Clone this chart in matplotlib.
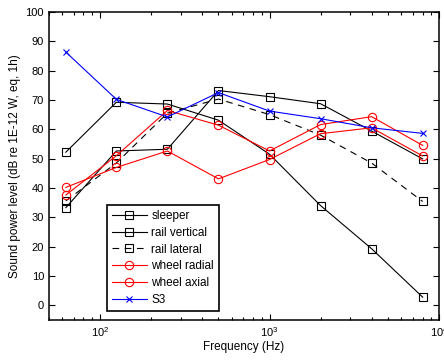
import matplotlib
matplotlib.use("Agg")
import matplotlib.pyplot as plt
from matplotlib.ticker import LogLocator, NullFormatter, FixedLocator

plt.rcParams['font.family'] = ['Liberation Sans', 'DejaVu Sans']

freq = [63, 125, 250, 500, 1000, 2000, 4000, 8000]
sleeper = [52.2, 69.2, 68.6, 63.1, 51.5, 34.0, 19.3, 2.8]
rail_vertical = [33.3, 52.6, 53.2, 73.2, 71.1, 68.7, 59.4, 49.9]
rail_lateral = [35.6, 48.5, 65.5, 70.3, 65.0, 58.0, 48.5, 35.4]
wheel_radial = [37.6, 51.0, 66.4, 61.4, 52.6, 61.6, 64.3, 54.5]
wheel_axial = [40.2, 47.0, 52.6, 43.1, 49.7, 58.5, 60.5, 50.9]
s3 = [86.3, 70.2, 64.2, 72.5, 66.2, 63.6, 60.5, 58.6]

fig = plt.figure(figsize=(4.44, 3.6), dpi=100)
ax = fig.add_axes([0.110, 0.111, 0.879, 0.856])

lw = 0.8
ms = 6
ax.plot(freq, sleeper, '-', color='black', lw=lw, marker='s', ms=ms, mfc='none', mew=0.8, label='sleeper')
ax.plot(freq, rail_vertical, '-', color='black', lw=lw, marker='s', ms=ms, mfc='none', mew=0.8, label='rail vertical')
ax.plot(freq, rail_lateral, '--', color='black', lw=lw, marker='s', ms=ms, mfc='none', mew=0.8, dashes=(6, 5), label='rail lateral')
ax.plot(freq, wheel_radial, '-', color='#ff0000', lw=lw, marker='o', ms=ms, mfc='none', mew=0.8, label='wheel radial')
ax.plot(freq, wheel_axial, '-', color='#ff0000', lw=lw, marker='o', ms=ms, mfc='none', mew=0.8, label='wheel axial')
ax.plot(freq, s3, '-', color='#0000ff', lw=lw, marker='x', ms=4, mew=0.8, label='S3')

ax.set_xscale('log')
ax.set_xlim(50, 10000)
ax.set_ylim(-5, 100)
ax.set_yticks(range(0, 101, 10))
ax.xaxis.set_major_locator(FixedLocator([100, 1000, 10000]))
ax.xaxis.set_minor_locator(LogLocator(base=10, subs=range(2, 10), numticks=20))
ax.xaxis.set_minor_formatter(NullFormatter())
ax.tick_params(which='both', direction='in', top=True, right=True, labelsize=8, width=0.8)
ax.tick_params(which='major', length=4)
ax.tick_params(which='minor', length=2.5)
for s in ax.spines.values():
    s.set_linewidth(1.1)

ax.set_xlabel('Frequency (Hz)', fontsize=8.5, labelpad=2)
ax.set_ylabel('Sound power level (dB re 1E-12 W, eq, 1h)', fontsize=8.5, labelpad=3)

leg = ax.legend(loc='lower left', bbox_to_anchor=(0.149, 0.029), borderaxespad=0,
                fontsize=8.5, frameon=True,
                fancybox=False, edgecolor='black', handlelength=2.9, borderpad=0.45,
                labelspacing=0.4, handletextpad=0.4, framealpha=1)
leg.get_frame().set_linewidth(1.2)

fig.savefig('out.png', dpi=100)
